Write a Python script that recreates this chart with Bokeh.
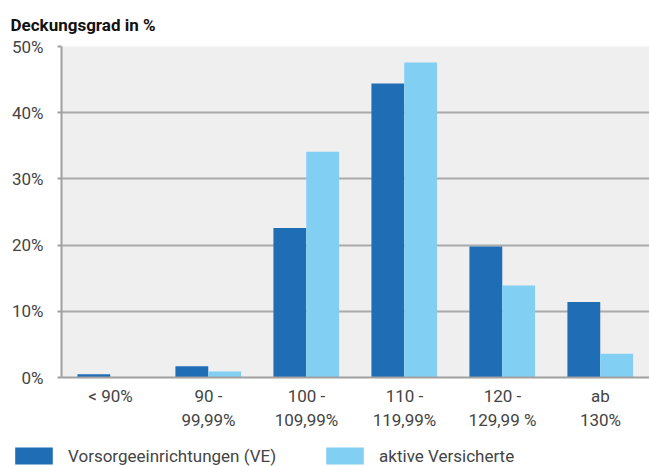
from bokeh.plotting import figure
from bokeh.models import (FactorRange, Range1d, ColumnDataSource, Legend, LegendItem,
                          PrintfTickFormatter, FixedTicker)
from bokeh.layouts import column, row
from bokeh.transform import dodge
from bokeh.embed import file_html
from bokeh.resources import INLINE

categories = ["< 90%", "90 -\n99,99%", "100 -\n109,99%", "110 -\n119,99%", "120 -\n129,99 %", "ab\n130%"]
ve_values = [0.5, 1.7, 22.6, 44.4, 19.8, 11.4]
aktive_values = [0.0, 0.9, 34.1, 47.6, 13.9, 3.6]
y_ticks = [0, 10, 20, 30, 40, 50]
series_names = ["Vorsorgeeinrichtungen (VE)", "aktive Versicherte"]

DARK = "#1f6db5"
LIGHT = "#82cff4"
TXT = "#444444"
FONT = "Roboto"
FS = "17px"

src = ColumnDataSource(dict(cat=categories, ve=ve_values, ak=aktive_values))

p = figure(width=649, height=440, output_backend="svg", toolbar_location=None,
           x_range=FactorRange(factors=categories, range_padding=0),
           y_range=Range1d(0, 50),
           min_border_left=61, min_border_right=0, min_border_top=46, min_border_bottom=63)

p.title.text = "Deckungsgrad in %"
p.title.text_font = FONT
p.title.text_font_style = "bold"
p.title.text_font_size = "17px"
p.title.text_color = "#111111"
p.title.align = "left"
p.title.offset = -51
p.title.standoff = 24

p.background_fill_color = "#efefef"
p.border_fill_color = "white"
p.outline_line_color = None

r1 = p.vbar(x=dodge("cat", -0.17, range=p.x_range), top="ve", width=0.335, source=src,
            fill_color=DARK, line_color=None)
r2 = p.vbar(x=dodge("cat", 0.165, range=p.x_range), top="ak", width=0.335, source=src,
            fill_color=LIGHT, line_color=None)

p.xgrid.grid_line_color = None
p.ygrid.grid_line_color = "#aaaaaa"
p.ygrid.grid_line_width = 2
p.ygrid.ticker = FixedTicker(ticks=y_ticks)

p.yaxis.ticker = FixedTicker(ticks=y_ticks)
p.yaxis.formatter = PrintfTickFormatter(format="%d%%")
p.yaxis.axis_line_color = "#a0a0a0"
p.yaxis.axis_line_width = 2
p.yaxis.major_tick_line_color = "#a0a0a0"
p.yaxis.major_tick_line_width = 2
p.yaxis.major_tick_out = 4
p.yaxis.major_tick_in = 0
p.yaxis.minor_tick_line_color = None
p.yaxis.major_label_text_font = FONT
p.yaxis.major_label_text_font_size = FS
p.yaxis.major_label_text_color = TXT
p.yaxis.major_label_standoff = 14

p.xaxis.axis_line_color = "#a0a0a0"
p.xaxis.axis_line_width = 2
p.xaxis.major_tick_line_color = None
p.xaxis.minor_tick_line_color = None
p.xaxis.major_label_text_font = FONT
p.xaxis.major_label_text_font_size = FS
p.xaxis.major_label_text_color = TXT
p.xaxis.major_label_standoff = 2

# legend strip below the chart
lg = figure(width=649, height=26, output_backend="svg", toolbar_location=None,
            x_range=Range1d(0, 1), y_range=Range1d(0, 1),
            x_axis_location=None, y_axis_location=None,
            min_border_left=0, min_border_right=0, min_border_top=0, min_border_bottom=0)
lg.grid.visible = False
lg.outline_line_color = None
lg.background_fill_color = "white"
d1 = lg.vbar(x=[-10], top=[-10], bottom=[-11], width=1, fill_color=DARK, line_color=None)
d2 = lg.vbar(x=[-10], top=[-10], bottom=[-11], width=1, fill_color=LIGHT, line_color=None)
legend = Legend(items=[LegendItem(label=series_names[0], renderers=[d1]),
                       LegendItem(label=series_names[1], renderers=[d2])],
                orientation="horizontal", location=(10, 0),
                glyph_width=47, glyph_height=21, label_standoff=11, spacing=45,
                padding=0, margin=0, border_line_color=None, background_fill_alpha=0,
                label_text_font=FONT, label_text_font_size=FS, label_text_color=TXT,
                label_height=21)
lg.add_layout(legend, "center")

layout = column(p, row(lg, spacing=0), spacing=0)
open("out.html", "w").write(file_html(layout, INLINE))
